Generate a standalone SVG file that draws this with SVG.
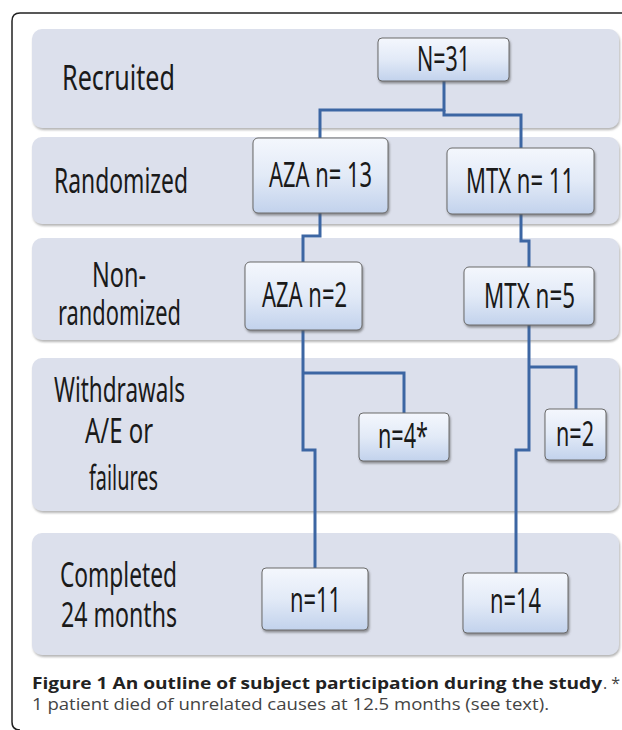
<svg xmlns="http://www.w3.org/2000/svg" width="622" height="730" viewBox="0 0 622 730">
<defs>
<linearGradient id="ng" x1="0" y1="0" x2="0" y2="1">
<stop offset="0" stop-color="#f4f7fd"/>
<stop offset="0.5" stop-color="#e2eaf7"/>
<stop offset="1" stop-color="#c2d2ec"/>
</linearGradient>
<filter id="bs" x="-5%" y="-10%" width="110%" height="125%">
<feDropShadow dx="1" dy="2" stdDeviation="1.2" flood-color="#7a7a7a" flood-opacity="0.55"/>
</filter>
<filter id="ns" x="-10%" y="-10%" width="125%" height="130%">
<feDropShadow dx="1" dy="2" stdDeviation="1.2" flood-color="#555" flood-opacity="0.6"/>
</filter>
</defs>
<style>
.band{fill:#dce0ec;filter:url(#bs)}
.node{fill:url(#ng);stroke:#6a6a6a;stroke-width:1;filter:url(#ns)}
.lbl{font-family:"Noto Sans","Open Sans",sans-serif;font-size:34px;fill:#1a1a1a}
.con{fill:none;stroke:#3c66a3;stroke-width:3;stroke-linejoin:miter}
.cap{font-family:"Open Sans","Noto Sans",sans-serif;font-size:16px}
</style>
<rect width="622" height="730" fill="#ffffff"/>
<path d="M622,13 H20 Q12,13 12,21 V722 Q12,730 20,730" fill="none" stroke="#222" stroke-width="1.5"/>
<g id="bands">
<rect class="band" x="32" y="29" width="587" height="99" rx="10"/>
<rect class="band" x="32" y="137" width="587" height="87" rx="10"/>
<rect class="band" x="32" y="238" width="587" height="102" rx="10"/>
<rect class="band" x="32" y="358" width="587" height="153" rx="10"/>
<rect class="band" x="32" y="533" width="587" height="122" rx="10"/>
</g>
<g id="stage-labels">
<text class="lbl" x="62" y="90" textLength="113" lengthAdjust="spacingAndGlyphs">Recruited</text>
<text class="lbl" x="54" y="193" textLength="134" lengthAdjust="spacingAndGlyphs">Randomized</text>
<text class="lbl" x="92" y="287" textLength="54" lengthAdjust="spacingAndGlyphs">Non-</text>
<text class="lbl" x="58" y="325" textLength="123" lengthAdjust="spacingAndGlyphs">randomized</text>
<text class="lbl" x="54" y="402" textLength="131" lengthAdjust="spacingAndGlyphs">Withdrawals</text>
<text class="lbl" x="85" y="443" textLength="68" lengthAdjust="spacingAndGlyphs">A/E or</text>
<text class="lbl" x="89" y="490" textLength="69" lengthAdjust="spacingAndGlyphs">failures</text>
<text class="lbl" x="60" y="587" textLength="117" lengthAdjust="spacingAndGlyphs">Completed</text>
<text class="lbl" x="61" y="627" textLength="116" lengthAdjust="spacingAndGlyphs">24 months</text>
</g>
<g id="connectors">
<path class="con" d="M444,81 V110 H320 V138"/>
<path class="con" d="M444,110 V115 H521 V148"/>
<path class="con" d="M320,213 V236 H303 V262"/>
<path class="con" d="M521,214 V241 H529 V267"/>
<path class="con" d="M303,330 V450 H315 V568"/>
<path class="con" d="M303,373 H404 V413"/>
<path class="con" d="M529,325 V450 H516 V573"/>
<path class="con" d="M529,367 H576 V409"/>
</g>
<g id="n31"><rect class="node" x="378" y="38" width="131" height="43" rx="4"/><text class="lbl" x="417" y="71" textLength="53" lengthAdjust="spacingAndGlyphs">N=31</text></g>
<g id="aza13"><rect class="node" x="253" y="138" width="135" height="75" rx="5"/><text class="lbl" x="269" y="187" textLength="103" lengthAdjust="spacingAndGlyphs">AZA n= 13</text></g>
<g id="mtx11"><rect class="node" x="447" y="148" width="147" height="66" rx="5"/><text class="lbl" x="466" y="193" textLength="108" lengthAdjust="spacingAndGlyphs">MTX n= 11</text></g>
<g id="aza2"><rect class="node" x="245" y="262" width="117" height="68" rx="5"/><text class="lbl" x="262" y="307" textLength="85" lengthAdjust="spacingAndGlyphs">AZA n=2</text></g>
<g id="mtx5"><rect class="node" x="464" y="267" width="130" height="58" rx="5"/><text class="lbl" x="484" y="308" textLength="91" lengthAdjust="spacingAndGlyphs">MTX n=5</text></g>
<g id="n4"><rect class="node" x="359" y="413" width="90" height="48" rx="4"/><text class="lbl" x="378" y="448" textLength="50" lengthAdjust="spacingAndGlyphs">n=4*</text></g>
<g id="n2"><rect class="node" x="545" y="409" width="61" height="51" rx="4"/><text class="lbl" x="556" y="446" textLength="38" lengthAdjust="spacingAndGlyphs">n=2</text></g>
<g id="n11"><rect class="node" x="262" y="568" width="106" height="62" rx="4"/><text class="lbl" x="290" y="612" textLength="51" lengthAdjust="spacingAndGlyphs">n=11</text></g>
<g id="n14"><rect class="node" x="463" y="573" width="105" height="60" rx="4"/><text class="lbl" x="490" y="613" textLength="51" lengthAdjust="spacingAndGlyphs">n=14</text></g>
<g id="caption">
<text class="cap" x="32" y="689" font-weight="bold" fill="#222" textLength="570" lengthAdjust="spacingAndGlyphs">Figure 1 An outline of subject participation during the study</text>
<text class="cap" x="603" y="689" fill="#444">. *</text>
<text class="cap" x="32" y="710" fill="#444" textLength="517" lengthAdjust="spacingAndGlyphs">1 patient died of unrelated causes at 12.5 months (see text).</text>
</g>
</svg>
